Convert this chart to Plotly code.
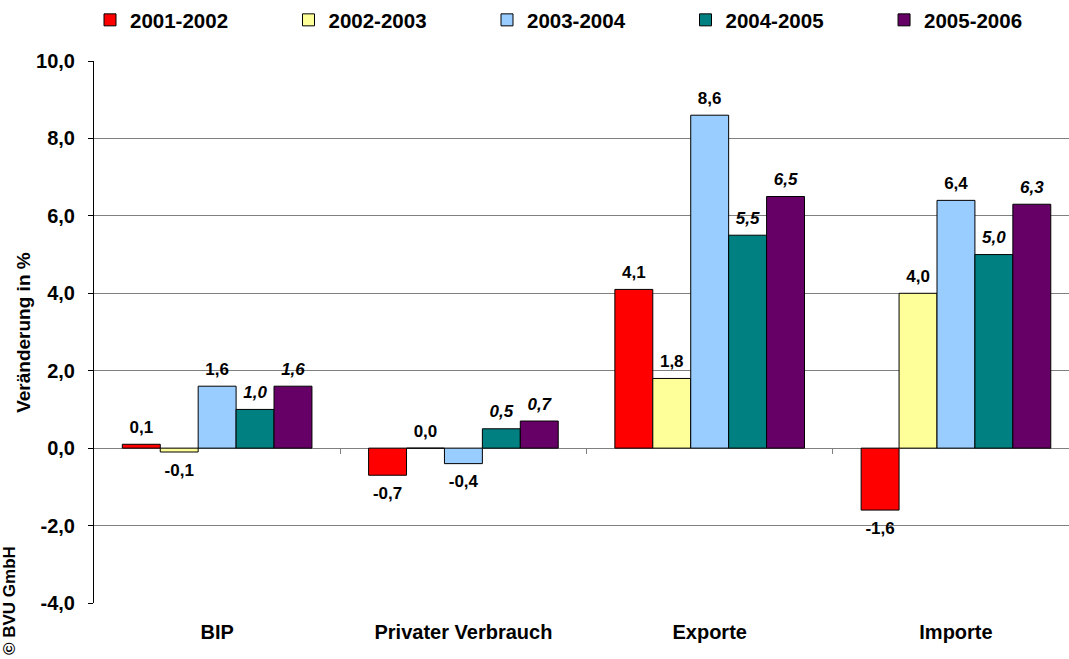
import plotly.graph_objects as go

categories = ["BIP", "Privater Verbrauch", "Exporte", "Importe"]
series_names = ["2001-2002", "2002-2003", "2003-2004", "2004-2005", "2005-2006"]
v_2001_2002 = [0.1, -0.7, 4.1, -1.6]
v_2002_2003 = [-0.1, 0.0, 1.8, 4.0]
v_2003_2004 = [1.6, -0.4, 8.6, 6.4]
v_2004_2005 = [1.0, 0.5, 5.5, 5.0]
v_2005_2006 = [1.6, 0.7, 6.5, 6.3]
series_values = [v_2001_2002, v_2002_2003, v_2003_2004, v_2004_2005, v_2005_2006]
colors = ["#FF0000", "#FFFF99", "#99CCFF", "#008080", "#660066"]
italic = [False, False, False, True, True]
legend_ids = ["legend", "legend", "legend", "legend", "legend2"]
y_ticks = [-4, -2, 0, 2, 4, 6, 8, 10]
y_ticktext = [f"{t:.1f}".replace(".", ",") for t in y_ticks]

FONT = "Liberation Sans, Arial, sans-serif"
GAP = 0.23

fig = go.Figure()
for name, vals, col, lg in zip(series_names, series_values, colors, legend_ids):
    fig.add_trace(go.Bar(
        x=categories, y=vals, name=name, legend=lg,
        marker=dict(color=col, line=dict(color="black", width=1)),
    ))

# value labels (grouped scatter so they sit over their bars)
for name, vals, it in zip(series_names, series_values, italic):
    fig.add_trace(go.Scatter(
        x=categories, y=vals, mode="markers+text", showlegend=False, hoverinfo="skip",
        marker=dict(size=[10 if v >= 0 else 16 for v in vals], opacity=0),
        text=[f"{v:.1f}".replace(".", ",") for v in vals],
        textposition=["top center" if v >= 0 else "bottom center" for v in vals],
        cliponaxis=False,
        textfont=dict(family=FONT, size=17, color="black", weight="bold",
                      style="italic" if it else "normal"),
    ))

# invisible trace for boundary ticks on the zero line
fig.add_trace(go.Scatter(x=[0], y=[0], xaxis="x2", mode="markers",
                         marker=dict(opacity=0), showlegend=False, hoverinfo="skip"))

legend_font = dict(family=FONT, size=20.5, weight="bold")
fig.update_layout(
    width=1069, height=659,
    margin=dict(l=94, r=0, t=61, b=56),
    paper_bgcolor="white", plot_bgcolor="white",
    separators=",.",
    barmode="group", bargap=GAP, bargroupgap=0,
    scattermode="group", scattergap=GAP,
    font=dict(family=FONT, color="black"),
    showlegend=True,
    legend=dict(orientation="h", x=-0.0041, xanchor="left", y=1.0756, yanchor="middle",
                entrywidth=153.5, entrywidthmode="pixels",
                font=legend_font, traceorder="normal"),
    legend2=dict(orientation="h", x=0.8103, xanchor="left", y=1.0756, yanchor="middle",
                 font=legend_font, traceorder="normal"),
    xaxis=dict(range=[-0.5, 3.459], showgrid=False, zeroline=False, showline=False,
               ticks="outside", ticklen=11, tickcolor="rgba(0,0,0,0)",
               tickfont=dict(family=FONT, size=20, weight="bold")),
    xaxis2=dict(overlaying="x", anchor="free", position=4/14, range=[-0.5, 3.459],
                tickvals=[0.5, 1.5, 2.5], ticks="outside", ticklen=5, tickcolor="#808080",
                showticklabels=False, showgrid=False, zeroline=False, showline=False),
    yaxis=dict(range=[-4, 10], tickvals=y_ticks, ticktext=y_ticktext,
               showgrid=True, gridcolor="#808080", gridwidth=1,
               zeroline=True, zerolinecolor="#808080", zerolinewidth=1,
               showline=True, linecolor="black", linewidth=1,
               ticks="outside", ticklen=5, tickcolor="black", ticklabelstandoff=9,
               tickfont=dict(family=FONT, size=20, weight="bold")),
    annotations=[
        dict(text="Veränderung in %", textangle=-90, xref="paper", yref="paper",
             x=-0.073, y=0.5, xanchor="center", yanchor="middle", showarrow=False,
             font=dict(family=FONT, size=19, weight="bold")),
        dict(text="© BVU GmbH", textangle=-90, xref="paper", yref="paper",
             x=-0.0872, y=0.0055, xanchor="center", yanchor="middle", showarrow=False,
             font=dict(family=FONT, size=17, weight="bold")),
    ],
)

fig.write_html("out.html", config={"displayModeBar": False},
               post_script="document.body.style.margin='0';")
